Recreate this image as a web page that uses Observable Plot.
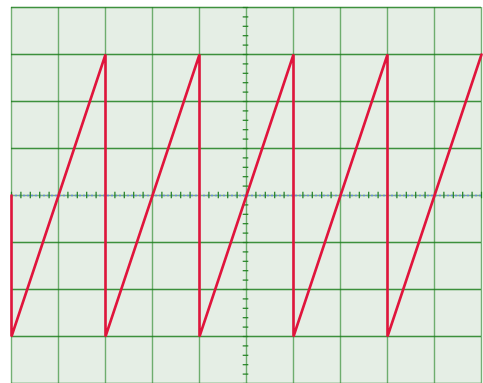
<!DOCTYPE html>
<html>
<head>
<meta charset="utf-8">
<script src="https://cdn.jsdelivr.net/npm/d3@7"></script>
<script src="https://cdn.jsdelivr.net/npm/@observablehq/plot@0.6"></script>
<style>
  html, body { margin: 0; padding: 0; background: #ffffff; }
</style>
</head>
<body>
<div id="chart"></div>
<script>
// Sawtooth trace (divisions)
const traceX = [0, 0, 2, 2, 4, 4, 6, 6, 8, 8, 10];
const traceY = [0, -3, 3, -3, 3, -3, 3, -3, 3, -3, 3];
// Graticule divisions
const gridX = [0, 1, 2, 3, 4, 5, 6, 7, 8, 9, 10];
const gridY = [-4, -3, -2, -1, 0, 1, 2, 3, 4];
const xCenter = 5;
const yCenter = 0;
const minorStep = 0.2;

const trace = traceX.map((x, i) => ({x, y: traceY[i]}));
const minorX = d3.range(0, 10 + 1e-9, minorStep).map(v => +v.toFixed(2));
const minorY = d3.range(-4, 4 + 1e-9, minorStep).map(v => +v.toFixed(2));
const tickHalf = 0.07;

const chart = Plot.plot({
  width: 483,
  height: 383,
  marginLeft: 11,
  marginRight: 2,
  marginTop: 7,
  marginBottom: 0,
  x: {domain: [0, 10], axis: null},
  y: {domain: [-4, 4], axis: null},
  style: {background: "transparent"},
  marks: [
    Plot.frame({fill: "#e5eee5", stroke: null}),
    Plot.ruleX(gridX.filter(d => d !== xCenter), {stroke: "#2e8b2e", strokeOpacity: 0.65, strokeWidth: 1.4}),
    Plot.ruleY(gridY.filter(d => d !== yCenter), {stroke: "#1f7f1f", strokeOpacity: 0.85, strokeWidth: 1.3}),
    // center vertical axis
    Plot.ruleX([xCenter], {stroke: "#2e8b2e", strokeOpacity: 0.65, strokeWidth: 1.4}),
    Plot.ruleY(minorY, {x1: xCenter - tickHalf, x2: xCenter + tickHalf * 0.7, y: d => d, stroke: "#1f7f1f", strokeWidth: 1.2}),
    // center horizontal axis
    Plot.ruleY([yCenter], {stroke: "#4a9a4a", strokeOpacity: 0.7, strokeWidth: 1.5}),
    Plot.ruleY([yCenter], {stroke: "#6a88d8", strokeWidth: 1.5, strokeDasharray: "2,2"}),
    Plot.ruleX(minorX, {y1: yCenter - tickHalf, y2: yCenter + tickHalf, x: d => d, stroke: "#1f7f1f", strokeWidth: 1.2}),
    // trace
    Plot.line(trace, {x: "x", y: "y", stroke: "#e0143c", strokeWidth: 2.6, strokeLinejoin: "miter", curve: "linear"})
  ]
});
document.getElementById("chart").append(chart);
</script>
</body>
</html>
